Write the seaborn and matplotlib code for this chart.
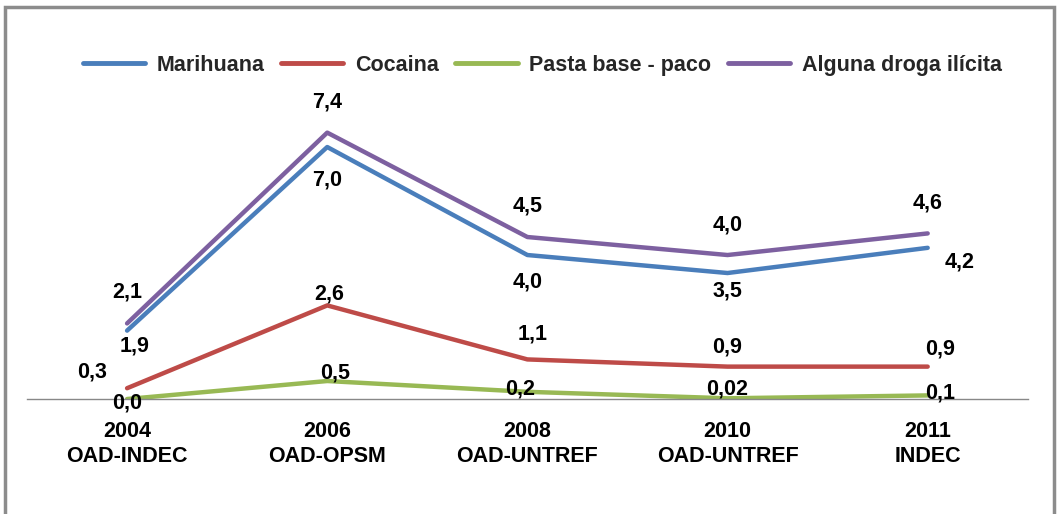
import matplotlib
matplotlib.use("Agg")
import matplotlib.pyplot as plt
import matplotlib.patches as mpatches
import pandas as pd
import seaborn as sns

# data
categories = ["2004\nOAD-INDEC", "2006\nOAD-OPSM", "2008\nOAD-UNTREF",
              "2010\nOAD-UNTREF", "2011\nINDEC"]
series_names = ["Marihuana", "Cocaina", "Pasta base - paco", "Alguna droga ilícita"]
marihuana = [1.9, 7.0, 4.0, 3.5, 4.2]
cocaina = [0.3, 2.6, 1.1, 0.9, 0.9]
pasta_base = [0.0, 0.5, 0.2, 0.02, 0.1]
alguna_droga = [2.1, 7.4, 4.5, 4.0, 4.6]
value_labels = {
    "Marihuana": ["1,9", "7,0", "4,0", "3,5", "4,2"],
    "Cocaina": ["0,3", "2,6", "1,1", "0,9", "0,9"],
    "Pasta base - paco": ["0,0", "0,5", "0,2", "0,02", "0,1"],
    "Alguna droga ilícita": ["2,1", "7,4", "4,5", "4,0", "4,6"],
}

colors = {
    "Marihuana": "#4A7EBB",
    "Cocaina": "#BE4B48",
    "Pasta base - paco": "#98B954",
    "Alguna droga ilícita": "#7D60A0",
}

sns.set_theme(style="white")
plt.rcParams["font.family"] = ["Liberation Sans", "DejaVu Sans"]

df = pd.DataFrame({
    "x": list(range(len(categories))) * 4,
    "value": marihuana + cocaina + pasta_base + alguna_droga,
    "serie": [s for s in series_names for _ in categories],
})

fig = plt.figure(figsize=(10.59, 5.14), dpi=100)
ax = fig.add_axes([0.0255, 0.2237, 0.945, 0.5603])

sns.lineplot(data=df, x="x", y="value", hue="serie", hue_order=series_names,
             palette=colors, linewidth=3.2, ax=ax, legend=False, sort=False)

FS = 15.5
ax.set_xlim(-0.5, 4.5)
ax.set_ylim(0, 8)
ax.set_yticks([])
ax.set_xticks(range(len(categories)))
ax.set_xticklabels(categories, fontsize=FS, fontweight="bold", linespacing=1.25,
                   color="black")
ax.set_xticks([i - 0.5 for i in range(len(categories) + 1)], minor=True)
ax.tick_params(axis="x", which="major", length=0, pad=16)
ax.tick_params(axis="x", which="minor", length=7, direction="out", color="#888888", width=1)
ax.set_xlabel("")
ax.set_ylabel("")
for side in ["top", "right", "left"]:
    ax.spines[side].set_visible(False)
ax.spines["bottom"].set_color("#888888")
ax.spines["bottom"].set_linewidth(1)

# value labels: offsets in pixels (dx, dy)
offsets = {
    "Marihuana": [(7, -15), (0, -33), (0, -27), (0, -18), (32, -14)],
    "Cocaina": [(-35, 16), (2, 11), (5, 25), (0, 20), (12, 18)],
    "Pasta base - paco": [(0, -4), (8, 8), (-7, 3), (0, 9), (12, 2)],
    "Alguna droga ilícita": [(0, 31), (0, 31), (0, 31), (0, 30), (0, 30)],
}
series_values = dict(zip(series_names, [marihuana, cocaina, pasta_base, alguna_droga]))
for name in series_names:
    for i, (v, lab) in enumerate(zip(series_values[name], value_labels[name])):
        dx, dy = offsets[name][i]
        ax.annotate(lab, (i, v), xytext=(dx * 0.72, dy * 0.72), textcoords="offset points",
                    ha="center", va="center", fontsize=FS, fontweight="bold", color="black")

handles = [plt.Line2D([], [], color=colors[s], linewidth=3.5) for s in series_names]
fig.legend(handles, series_names, loc="center", bbox_to_anchor=(0.512, 0.873), ncol=4,
           frameon=False, handlelength=2.9, columnspacing=0.75, handletextpad=0.55,
           prop={"size": FS, "weight": "bold"})

# outer chart border, partly cut like the reference
border = mpatches.Rectangle((5 / 1059, -0.1), 1049 / 1059, 1.1 - 7 / 514,
                            transform=fig.transFigure, fill=False,
                            edgecolor="#8c8c8c", linewidth=2.5)
fig.patches.append(border)

fig.savefig("out.png", dpi=100)
